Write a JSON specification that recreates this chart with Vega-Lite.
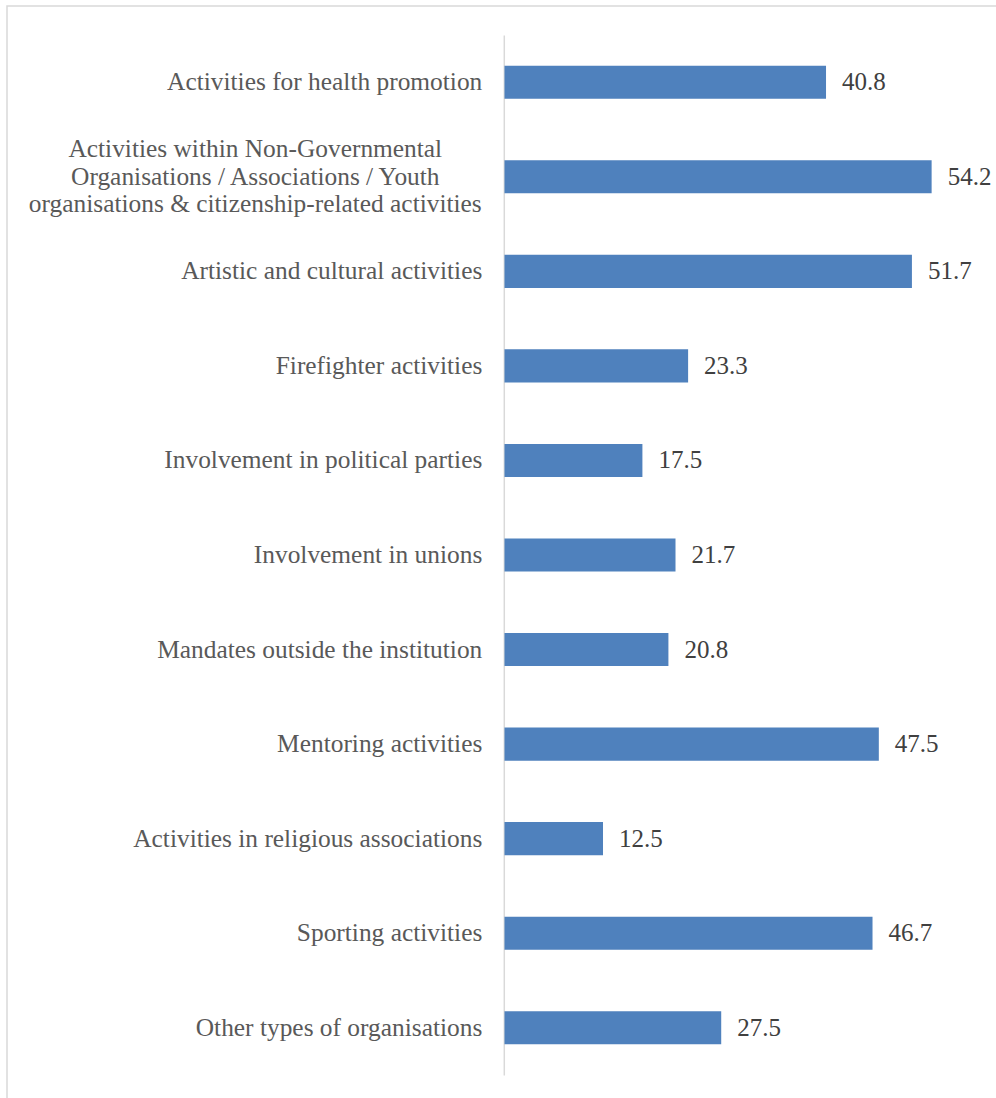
{
  "$schema": "https://vega.github.io/schema/vega-lite/v6.json",
  "autosize": "none",
  "padding": {"left": 7, "top": 6, "right": -6, "bottom": -8},
  "width": 995,
  "height": 1100,
  "background": "white",
  "config": {
    "view": {"stroke": "#d9d9d9", "strokeWidth": 1.5},
    "font": "Liberation Serif"
  },
  "data": {
    "values": [
      {"activity": "Activities for health promotion", "pct": 40.8},
      {"activity": "Activities within Non-Governmental Organisations / Associations / Youth organisations & citizenship-related activities", "pct": 54.2},
      {"activity": "Artistic and cultural activities", "pct": 51.7},
      {"activity": "Firefighter activities", "pct": 23.3},
      {"activity": "Involvement in political parties", "pct": 17.5},
      {"activity": "Involvement in unions", "pct": 21.7},
      {"activity": "Mandates outside the institution", "pct": 20.8},
      {"activity": "Mentoring activities", "pct": 47.5},
      {"activity": "Activities in religious associations", "pct": 12.5},
      {"activity": "Sporting activities", "pct": 46.7},
      {"activity": "Other types of organisations", "pct": 27.5}
    ]
  },
  "encoding": {
    "y": {
      "field": "activity",
      "type": "nominal",
      "sort": null,
      "scale": {"range": [29, 1069], "paddingInner": 0.65, "paddingOuter": 0.325},
      "axis": {
        "title": null,
        "orient": "left",
        "offset": -496.8,
        "ticks": false,
        "grid": false,
        "domainColor": "#d9d9d9",
        "domainWidth": 1.5,
        "labelPadding": {"condition": {"test": "indexof(datum.value, 'Non-Governmental') >= 0", "value": 249}, "value": 22},
        "labelAlign": {"condition": {"test": "indexof(datum.value, 'Non-Governmental') >= 0", "value": "center"}, "value": "right"},
        "labelFont": "Liberation Serif",
        "labelFontSize": 25.4,
        "labelColor": "#595959",
        "labelLimit": 0,
        "labelLineHeight": 27.5,
        "labelOffset": {"condition": {"test": "indexof(datum.value, 'Non-Governmental') >= 0", "value": -27.5}, "value": 0},
        "labelExpr": "indexof(datum.value, 'Non-Governmental') >= 0 ? ['Activities within Non-Governmental', 'Organisations / Associations / Youth', 'organisations & citizenship-related activities'] : datum.value"
      }
    },
    "x": {
      "field": "pct",
      "type": "quantitative",
      "scale": {"domain": [-63.13, 63.13], "nice": false, "zero": false},
      "axis": null
    }
  },
  "layer": [
    {"mark": {"type": "bar", "color": "#4f81bd"}},
    {
      "mark": {"type": "text", "align": "left", "baseline": "middle", "dx": 16, "font": "Liberation Serif", "fontSize": 25, "color": "#404040"},
      "encoding": {"text": {"field": "pct", "type": "quantitative", "format": ".1f"}}
    }
  ]
}
